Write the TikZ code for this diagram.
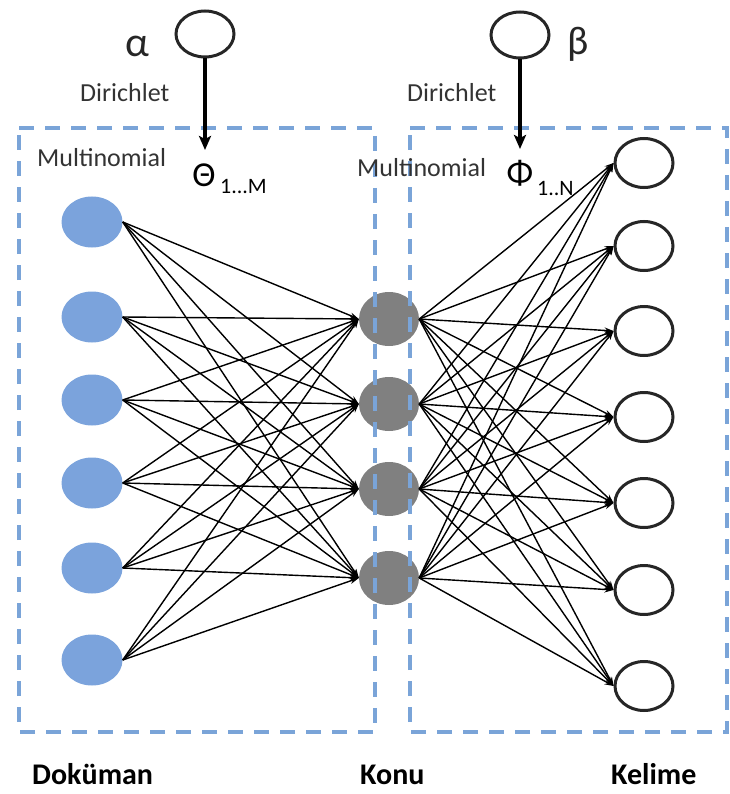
\documentclass[tikz,border=0pt]{standalone}
\usepackage{fontspec}
\setmainfont{Carlito}
\usetikzlibrary{shapes.geometric,arrows.meta}
\definecolor{docblue}{RGB}{123,163,220}
\definecolor{topicgray}{RGB}{128,128,128}
\definecolor{plateblue}{RGB}{122,164,216}
\tikzset{
  docnode/.style={ellipse,fill=docblue,draw=none,minimum width=61pt,minimum height=51pt,inner sep=0pt},
  topicnode/.style={ellipse,fill=topicgray,draw=none,minimum width=60pt,minimum height=54pt,inner sep=0pt},
  wordnode/.style={ellipse,draw=black!85,line width=3pt,fill=white,minimum width=58pt,minimum height=49pt,inner sep=0pt},
  hypernode/.style={ellipse,draw=black!85,line width=3pt,minimum width=58pt,minimum height=46pt,inner sep=0pt},
  plate/.style={draw=plateblue,line width=3.8pt,dash pattern=on 15pt off 11pt},
  link/.style={line width=1.4pt,draw=black,-{Stealth[length=9pt,width=6pt]}},
  prior/.style={line width=3.2pt,-{Stealth[length=14pt,width=12pt,inset=3pt]}},
  lbl/.style={inner sep=0pt,anchor=base west,font=\fontsize{26}{28}\selectfont,text=black!80},
  bottomlbl/.style={inner sep=0pt,anchor=base west,font=\fontsize{30}{34}\selectfont\bfseries},
}
\begin{document}
\begin{tikzpicture}[x=1pt,y=-1pt]
\useasboundingbox (0,0) rectangle (729,794);

% document nodes
\foreach \i/\y in {1/222,2/317,3/400,4/483,5/568,6/660}
  \node[docnode] (d\i) at (92,\y) {};
% topic nodes
\foreach \i/\y in {1/319,2/404,3/489,4/578}
  \node[topicnode] (t\i) at (389,\y) {};
% word nodes
\foreach \i/\y in {1/163,2/246,3/331,4/417,5/503,6/590,7/686}
  \node[wordnode] (w\i) at (644,\y) {};

% document -> topic
\foreach \i in {1,...,6}
  \foreach \j in {1,...,4}
    \draw[link] (d\i.east) -- (t\j.west);
% topic -> word
\foreach \j in {1,...,4}
  \foreach \k in {1,...,7}
    \draw[link] (t\j.east) -- (w\k.west);

% plates
\draw[plate] (19,128) -- (375,128) -- (375,732) -- (19,732) -- cycle;
\draw[plate] (410,128) -- (727,128) -- (727,732) -- (410,732) -- cycle;

% hyperparameters
\node[hypernode] (alpha) at (205,34) {};
\node[hypernode] (beta) at (520,35) {};
\node[inner sep=0pt,anchor=base,font=\fontsize{42}{44}\selectfont,text=black!85] (alphalbl) at (137,57) {α};
\node[inner sep=0pt,anchor=base,font=\fontsize{40}{44}\selectfont,text=black!85] (betalbl) at (578,55) {β};

\node[lbl] (dirL) at (80,102) {Dirichlet};
\node[lbl] (dirR) at (407,102) {Dirichlet};
\node[lbl] (multL) at (37,167) {Multinomial};
\node[lbl] (multR) at (357,177) {Multinomial};

\node[inner sep=0pt,anchor=base,font=\fontsize{35}{40}\selectfont] (theta) at (204,187) {Θ};
\node[inner sep=0pt,anchor=base west,font=\fontsize{22}{24}\selectfont] (thetasub) at (220,194) {1...M};
\node[inner sep=0pt,anchor=base,font=\fontsize{35}{40}\selectfont] (phi) at (520,185) {Φ};
\node[inner sep=0pt,anchor=base west,font=\fontsize{22}{24}\selectfont] (phisub) at (537,196) {1..N};

\coordinate (thetatip) at (205,150);
\coordinate (phitip) at (520,149);
\draw[prior] (alpha.south) -- (thetatip);
\draw[prior] (beta.south) -- (phitip);

% layer captions
\node[bottomlbl] (cdoc) at (32,784) {Doküman};
\node[bottomlbl] (ctopic) at (360,784) {Konu};
\node[bottomlbl] (cword) at (611,784) {Kelime};
\end{tikzpicture}
\end{document}
